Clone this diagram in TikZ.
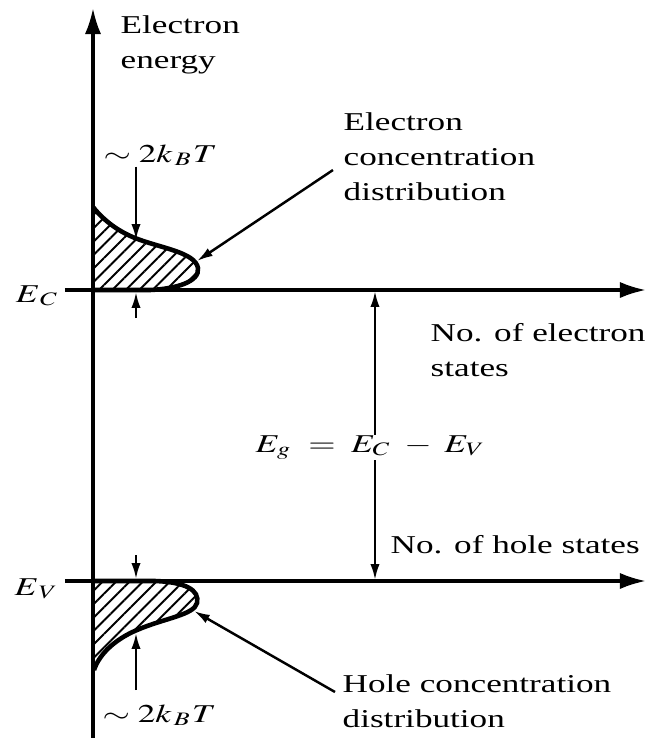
\documentclass[tikz,border=0pt]{standalone}
\usepackage{mathptmx}
\usepackage[no-math]{fontspec}
\setmainfont{Liberation Serif}
\usepackage{graphicx}
\usetikzlibrary{arrows.meta,patterns.meta}
\newcommand{\sx}[1]{\scalebox{1.37}[1]{#1}}

\begin{document}
\begin{tikzpicture}[
    x=0.01cm, y=-0.01cm,
    axis/.style={line width=0.9pt, -{Latex[length=7.4pt, width=4.6pt]}},
    gap/.style={line width=0.7pt, -{Latex[length=4.5pt, width=2.6pt]}},
    band/.style={line width=1.3pt, pattern={Lines[angle=45, distance=2.7pt, line width=0.55pt]}},
    lbl/.style={font=\fontsize{7.3}{10}\selectfont, inner sep=0pt},
]
\useasboundingbox (0,0) rectangle (658,738);

% hatched carrier distributions
\draw[band] (93,207) .. controls (105,222) and (120,232) .. (135,238)
    .. controls (160,248) and (195,252) .. (198,268)
    .. controls (200,282) and (175,289) .. (150,290) -- (93,290);
\draw[band] (93,581) -- (155,581) .. controls (185,582) and (200,590) .. (197,603)
    .. controls (194,615) and (165,618) .. (137,630)
    .. controls (118,638) and (100,652) .. (94,670);

% axes
\coordinate (origin) at (93,738);
\coordinate (top) at (93,8);
\coordinate (ec) at (65,290);
\coordinate (ecend) at (646,290);
\coordinate (ev) at (65,581);
\coordinate (evend) at (646,581);
\draw[axis] (origin) -- (top);
\draw[axis] (ec) -- (ecend);
\draw[axis] (ev) -- (evend);

% labels
\node[lbl, anchor=base west] (energy) at (120,33)
    {\sx{\begin{tabular}[t]{@{}l@{}}Electron\\energy\end{tabular}}};
\node[lbl, anchor=base east] (eclabel) at (60,302) {\sx{$E_{\,C}$}};
\node[lbl, anchor=base east] (evlabel) at (60,595) {\sx{$E_{\,V}$}};
\node[lbl, anchor=base west] (kte) at (103,162) {\sx{$\sim 2k_{\,B}T$}};
\node[lbl, anchor=base west] (kth) at (102,722) {\sx{$\sim 2k_{\,B}T$}};
\node[lbl, anchor=base west] (edist) at (343,130)
    {\sx{\begin{tabular}[t]{@{}l@{}}Electron\\concentration\\distribution\end{tabular}}};
\node[lbl, anchor=base west] (hdist) at (342,692)
    {\sx{\begin{tabular}[t]{@{}l@{}}Hole concentration\\distribution\end{tabular}}};
\node[lbl, anchor=base west] (estates) at (430,341)
    {\sx{\begin{tabular}[t]{@{}l@{}}No. of electron\\states\end{tabular}}};
\node[lbl, anchor=base west] (hstates) at (390,553) {\sx{No. of hole states}};
\node[lbl, anchor=base] (eg) at (371,452) {\sx{$E_g \;=\; E_C \;-\; E_V$}};

% band gap
\coordinate (gtop) at (375,291);
\coordinate (gbot) at (375,580);
\draw[gap] (eg.north -| gtop) -- (gtop);
\draw[gap] (eg.south -| gbot) -- (gbot);

% 2kT widths
\coordinate (etip) at (136,240);
\coordinate (eline) at (136,292);
\coordinate (etail) at (136,318);
\draw[gap] (kte.south -| etip) -- (etip);
\draw[gap] (etail) -- (eline);
\coordinate (htail) at (136,555);
\coordinate (hline) at (136,579);
\coordinate (hbase) at (136,690);
\coordinate (htip) at (136,633);
\draw[gap] (htail) -- (hline);
\draw[gap] (hbase) -- (htip);

% pointers
\coordinate (epoint) at (197,261);
\coordinate (hpoint) at (194,611);
\draw[gap] (333,170) coordinate (estart) -- (epoint);
\draw[gap] (335,692) coordinate (hstart) -- (hpoint);

\end{tikzpicture}
\end{document}
